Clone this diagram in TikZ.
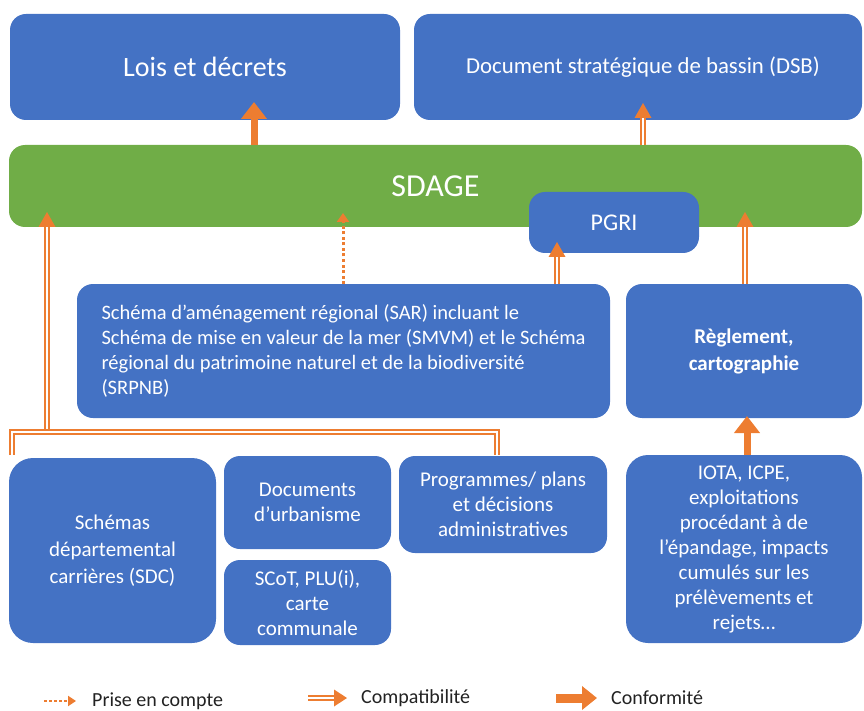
\documentclass[tikz,border=0pt]{standalone}
\usepackage{fontspec}
\setmainfont{Carlito}
\usetikzlibrary{arrows.meta,decorations.markings,calc}
\definecolor{bblue}{HTML}{4472C4}
\definecolor{sgreen}{HTML}{70AD47}
\definecolor{aorange}{HTML}{ED7D31}
\definecolor{ltext}{HTML}{222222}
\begin{document}
\begin{tikzpicture}[x=1pt,y=-1pt,
  box/.style={fill=bblue, rounded corners=16pt, text=white, align=center,
    anchor=north west, inner sep=0pt, outer sep=0pt},
  gbox/.style={box, fill=sgreen},
  fs/.style={font=\fontsize{#1}{25}\selectfont},
  conf/.style={draw=aorange, line width=7pt,
    -{Triangle[width=25pt,length=17pt]}},
  dline/.style={draw=aorange, double=white, line width=1.8pt, double distance=2pt},
  compat/.style={dline, shorten >=13pt,
    postaction={decorate, decoration={markings, mark=at position 1 with
      {\fill[aorange] (0pt,0pt) -- (-15pt,8.5pt) -- (-15pt,-8.5pt) -- cycle;}}}},
  pec/.style={draw=aorange, line width=3pt, dash pattern=on 3pt off 2.5pt,
    -{Triangle[width=12pt,length=9pt]}},
  legtext/.style={text=ltext, anchor=west, font=\fontsize{20}{24}\selectfont, inner sep=0pt}
]
\useasboundingbox (0,0) rectangle (864,711);

% top row
\node[box, minimum width=390, minimum height=106, font=\fontsize{28}{32}\selectfont]
  (lois) at (10,14) {Lois et décrets};
\node[box, minimum width=448, minimum height=106, font=\fontsize{22.8}{27}\selectfont]
  (dsb) at (414,14) {\hspace*{10pt}Document stratégique de bassin (DSB)};

% SDAGE
\node[gbox, minimum width=853, minimum height=82, font=\fontsize{32}{36}\selectfont]
  (sdage) at (9,145) {SDAGE};
\node[box, minimum width=170, minimum height=61, font=\fontsize{24}{28}\selectfont]
  (pgri) at (529,192) {PGRI};

% middle row
\node[box, minimum width=533, minimum height=134, align=left, fs=20.5]
  (sar) at (77,284) {Schéma d’aménagement régional (SAR) incluant le\\
  Schéma de mise en valeur de la mer (SMVM) et le Schéma\\
  régional du patrimoine naturel et de la biodiversité\\
  (SRPNB)};
\node[box, minimum width=236, minimum height=134, font=\bfseries\fontsize{21}{27}\selectfont]
  (regl) at (626,284) {Règlement,\\ cartographie};

% bottom row
\node[box, rounded corners=24pt, minimum width=207, minimum height=185, font=\fontsize{21}{27}\selectfont]
  (sdc) at (9,458) {Schémas\\ départemental\\ carrières (SDC)};
\node[box, minimum width=167, minimum height=93, fs=21]
  (docurb) at (224,456) {Documents\\ d’urbanisme};
\node[box, minimum width=167, minimum height=85, fs=21]
  (scot) at (224,560) {SCoT, PLU(i),\\ carte\\ communale};
\node[box, minimum width=208, minimum height=97, fs=21]
  (prog) at (399,456) {Programmes/ plans\\ et décisions\\ administratives};
\node[box, rounded corners=22pt, minimum width=236, minimum height=188, fs=21]
  (iota) at (626,455) {IOTA, ICPE,\\ exploitations\\ procédant à de\\ l’épandage, impacts\\ cumulés sur les\\ prélèvements et\\ rejets…};

% helper coordinates
\coordinate (xl) at (254,0);
\coordinate (xd) at (643,0);
\coordinate (xv) at (47,0);
\coordinate (xp) at (343,0);
\coordinate (xg) at (557,0);
\coordinate (xr) at (745,0);
\coordinate (xi) at (747,0);
\coordinate (bl) at (12,455);
\coordinate (br) at (497,455);
\coordinate (bt) at (0,432);

% connectors
\draw[conf] (sdage.north -| xl) -- ($(lois.south -| xl)+(0,-18)$);
\draw[compat] (sdage.north -| xd) -- ($(dsb.south -| xd)+(0,-17)$);
\draw[compat] (bt -| xv) -- ($(sdage.south -| xv)+(0,-15)$);
\draw[pec] (sar.north -| xp) -- ($(sdage.south -| xp)+(0,-14)$);
\draw[compat] (sar.north -| xg) -- ($(pgri.south -| xg)+(0,-11)$);
\draw[compat] (regl.north -| xr) -- ($(sdage.south -| xr)+(0,-15)$);
\draw[conf] (iota.north -| xi) -- ($(regl.south -| xi)+(0,-2)$);
\draw[dline] (bl) -- (bt -| bl) -- (bt -| br) -- (br);

% legend
\coordinate (l1a) at (44,701);
\coordinate (l1b) at (76,701);
\coordinate (l2a) at (308,698);
\coordinate (l2b) at (347,698);
\coordinate (l3a) at (556,698);
\coordinate (l3b) at (597,698);
\draw[draw=aorange, line width=2.5pt, dash pattern=on 2.5pt off 2.5pt,
  -{Triangle[width=10pt,length=8pt]}] (l1a) -- (l1b);
\node[legtext] (lt1) at (92,701) {Prise en compte};
\draw[dline, shorten >=11pt,
  postaction={decorate, decoration={markings, mark=at position 1 with
    {\fill[aorange] (0pt,0pt) -- (-13pt,8.5pt) -- (-13pt,-8.5pt) -- cycle;}}}] (l2a) -- (l2b);
\node[legtext] (lt2) at (361,698) {Compatibilité};
\draw[draw=aorange, line width=9pt, -{Triangle[width=23pt,length=15pt]}] (l3a) -- (l3b);
\node[legtext] (lt3) at (611,698) {Conformité};
\end{tikzpicture}
\end{document}
